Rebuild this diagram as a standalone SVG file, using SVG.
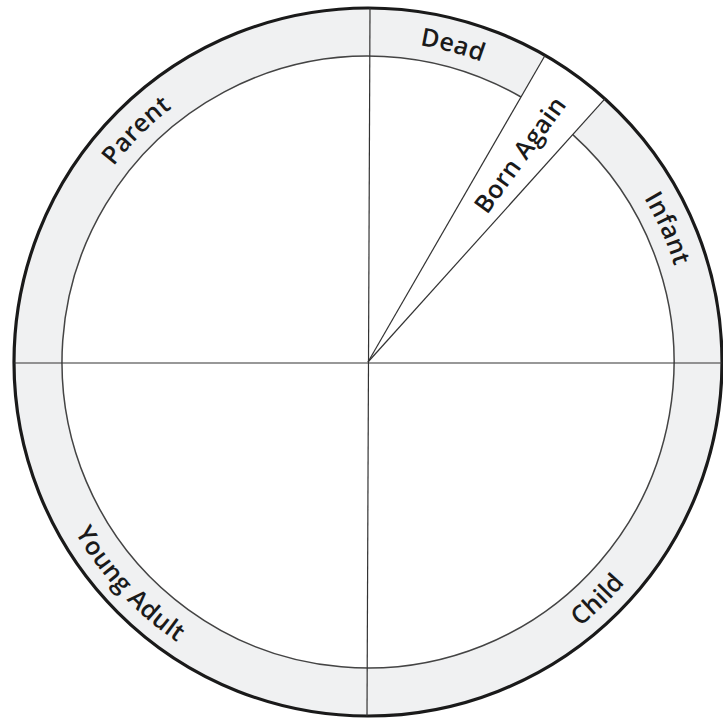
<svg xmlns="http://www.w3.org/2000/svg" width="723" height="718" viewBox="0 0 723 718">
  <style>
    .lbl { font-family: "Open Sans", "Noto Sans", "Liberation Sans", sans-serif; font-size: 25px; font-weight: 600; letter-spacing: 0.4px; fill: #1a1a1a; }
    .div { stroke: #333; stroke-width: 1.2; fill: none; }
  </style>
  <defs>
    <path id="pDead" d="M141.02,135.02 A321,321 0 0 1 678.07,278.92"/>
    <path id="pParent" d="M57.93,445.08 A321,321 0 0 1 451.08,51.93"/>
    <path id="pInfant" d="M401.55,42.76 A321,321 0 0 1 627.70,550.68"/>
    <path id="pChild" d="M274.56,687.87 A339,339 0 0 0 696.93,279.99"/>
    <path id="pYoung" d="M43.81,262.89 A339,339 0 0 0 444.26,692.31"/>
  </defs>
  <rect width="723" height="718" fill="#ffffff"/>
  <g id="ring">
    <circle cx="368" cy="362" r="354" fill="#f0f1f2"/>
    <circle cx="368" cy="362" r="306" fill="#ffffff"/>
    <path d="M368,362 L545,55.43 A354,354 0 0 1 604.87,98.93 Z" fill="#ffffff"/>
    <circle cx="368" cy="362" r="354" fill="none" stroke="#1a1a1a" stroke-width="3.2"/>
    <path d="M572.75,134.6 A306,306 0 1 1 521,97" fill="none" stroke="#444" stroke-width="1.5"/>
  </g>
  <g id="connectors">
    <line class="div" x1="370" y1="8" x2="367" y2="716"/>
    <line class="div" x1="14" y1="363" x2="722" y2="363"/>
    <line class="div" x1="368" y1="362" x2="545" y2="55.43"/>
    <line class="div" x1="368" y1="362" x2="604.87" y2="98.93"/>
  </g>
  <g id="dead"><text class="lbl" text-anchor="middle"><textPath href="#pDead" startOffset="50%">Dead</textPath></text></g>
  <g id="parent"><text class="lbl" text-anchor="middle"><textPath href="#pParent" startOffset="50%">Parent</textPath></text></g>
  <g id="infant"><text class="lbl" text-anchor="middle"><textPath href="#pInfant" startOffset="50%">Infant</textPath></text></g>
  <g id="child"><text class="lbl" text-anchor="middle"><textPath href="#pChild" startOffset="50%">Child</textPath></text></g>
  <g id="young-adult"><text class="lbl" text-anchor="middle"><textPath href="#pYoung" startOffset="50%">Young Adult</textPath></text></g>
  <g id="born-again"><text class="lbl" text-anchor="middle" dominant-baseline="central" transform="translate(519,154) rotate(-54)">Born Again</text></g>
</svg>
